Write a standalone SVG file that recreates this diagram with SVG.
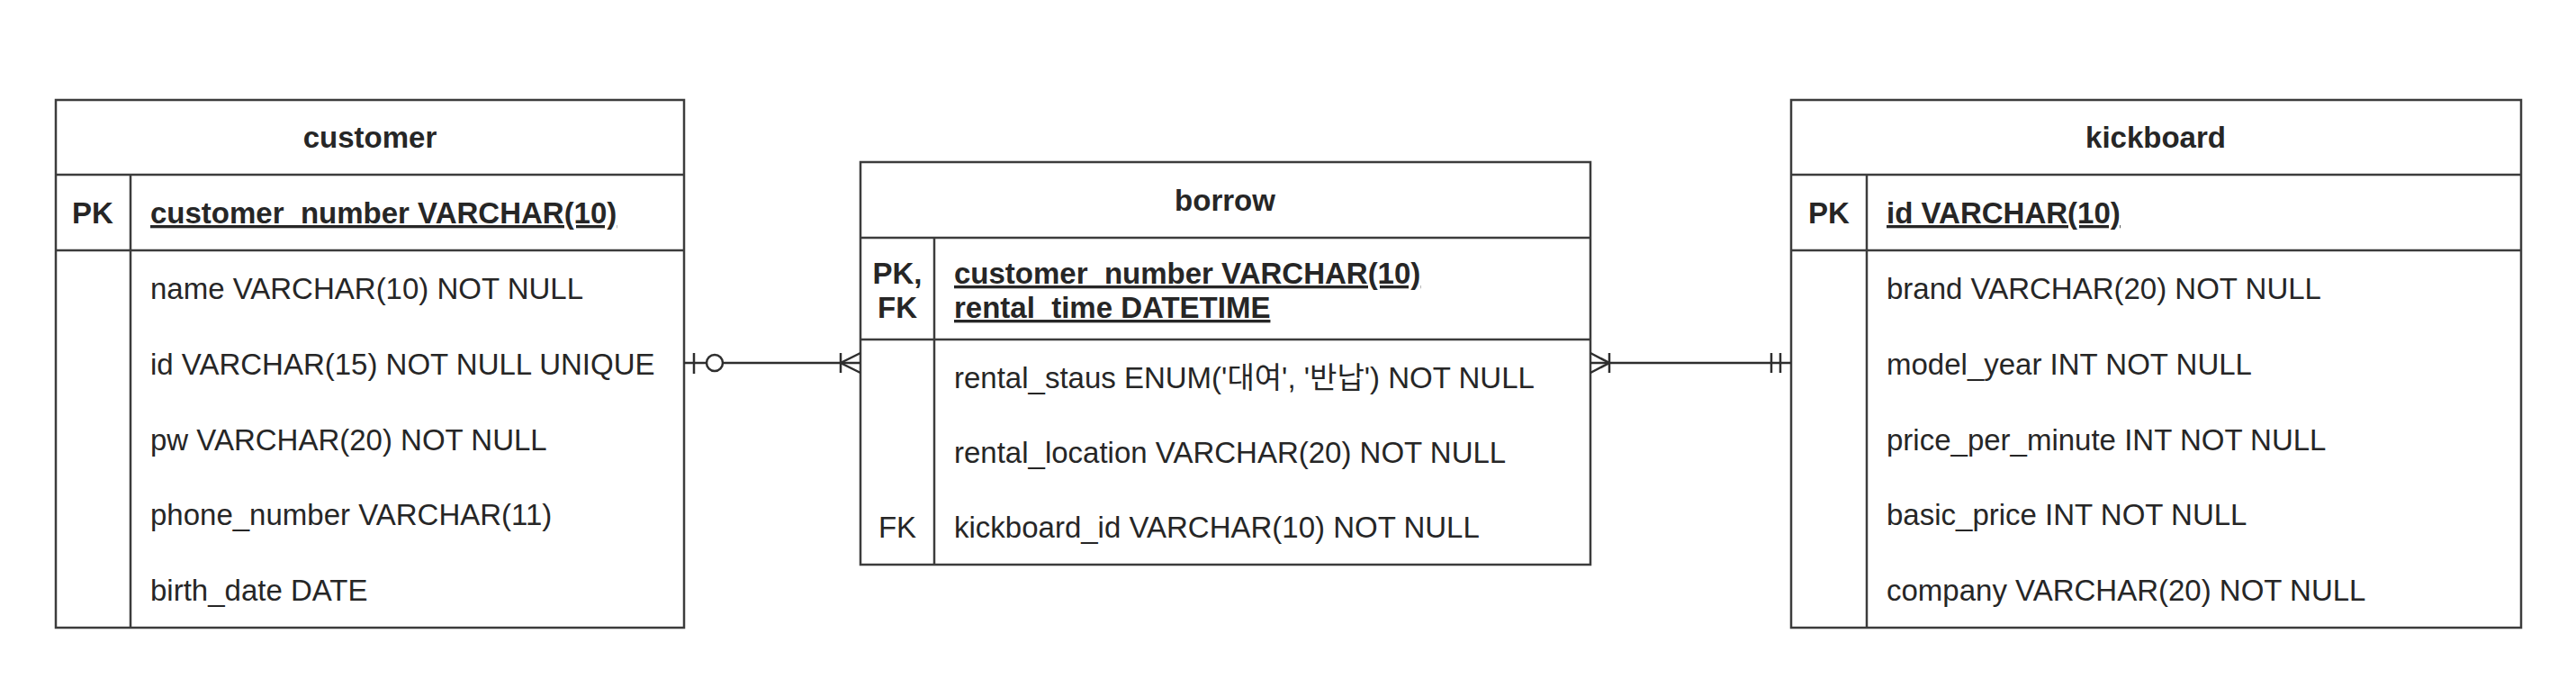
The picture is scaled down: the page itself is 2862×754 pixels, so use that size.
<svg xmlns="http://www.w3.org/2000/svg" width="2862" height="754" viewBox="0 0 2862 754">
<style>
.box{fill:#fff;stroke:#3c3c3c;stroke-width:2.5}
.ln{stroke:#3c3c3c;stroke-width:2.5;fill:none}
.cn{stroke:#2e2e2e;stroke-width:2.5;fill:none}
.t{font-family:"Liberation Sans","Noto Sans CJK KR",sans-serif;font-size:33px;fill:#262626}
.b{font-weight:bold}
.u{text-decoration:underline}
.c{text-anchor:middle}
</style>
<rect width="2862" height="754" fill="#fff"/>
<g id="customer">
<rect class="box" x="62" y="111" width="698" height="586"/>
<line class="ln" x1="62" y1="194" x2="760" y2="194"/>
<line class="ln" x1="62" y1="278" x2="760" y2="278"/>
<line class="ln" x1="145" y1="194" x2="145" y2="697"/>
<text class="t b c" x="411" y="164">customer</text>
<text class="t b c" x="103" y="248">PK</text>
<text class="t b u" x="167" y="248">customer_number VARCHAR(10)</text>
<text class="t" x="167" y="332">name VARCHAR(10) NOT NULL</text>
<text class="t" x="167" y="416">id VARCHAR(15) NOT NULL UNIQUE</text>
<text class="t" x="167" y="500">pw VARCHAR(20) NOT NULL</text>
<text class="t" x="167" y="583">phone_number VARCHAR(11)</text>
<text class="t" x="167" y="667">birth_date DATE</text>
</g>
<g id="borrow">
<rect class="box" x="956" y="180" width="811" height="447"/>
<line class="ln" x1="956" y1="264" x2="1767" y2="264"/>
<line class="ln" x1="956" y1="377" x2="1767" y2="377"/>
<line class="ln" x1="1038" y1="264" x2="1038" y2="627"/>
<text class="t b c" x="1361" y="234">borrow</text>
<text class="t b c" x="997" y="315">PK,</text>
<text class="t b c" x="997" y="353">FK</text>
<text class="t b u" x="1060" y="315">customer_number VARCHAR(10)</text>
<text class="t b u" x="1060" y="353">rental_time DATETIME</text>
<text class="t" x="1060" y="431">rental_staus ENUM('대여', '반납') NOT NULL</text>
<text class="t" x="1060" y="514">rental_location VARCHAR(20) NOT NULL</text>
<text class="t c" x="997" y="597">FK</text>
<text class="t" x="1060" y="597">kickboard_id VARCHAR(10) NOT NULL</text>
</g>
<g id="kickboard">
<rect class="box" x="1990" y="111" width="811" height="586"/>
<line class="ln" x1="1990" y1="194" x2="2801" y2="194"/>
<line class="ln" x1="1990" y1="278" x2="2801" y2="278"/>
<line class="ln" x1="2074" y1="194" x2="2074" y2="697"/>
<text class="t b c" x="2395" y="164">kickboard</text>
<text class="t b c" x="2032" y="248">PK</text>
<text class="t b u" x="2096" y="248">id VARCHAR(10)</text>
<text class="t" x="2096" y="332">brand VARCHAR(20) NOT NULL</text>
<text class="t" x="2096" y="416">model_year INT NOT NULL</text>
<text class="t" x="2096" y="500">price_per_minute INT NOT NULL</text>
<text class="t" x="2096" y="583">basic_price INT NOT NULL</text>
<text class="t" x="2096" y="667">company VARCHAR(20) NOT NULL</text>
</g>
<g id="connectors">
<path class="cn" d="M760 403 H785 M803 403 H956"/>
<line class="cn" x1="771" y1="392" x2="771" y2="415"/>
<circle class="cn" cx="794" cy="403" r="9"/>
<line class="cn" x1="934" y1="392" x2="934" y2="414"/>
<path class="cn" d="M956 392 L934 403 L956 414"/>
<path class="cn" d="M1767 403 H1990"/>
<line class="cn" x1="1788" y1="392" x2="1788" y2="414"/>
<path class="cn" d="M1767 392 L1788 403 L1767 414"/>
<line class="cn" x1="1968" y1="392" x2="1968" y2="414"/>
<line class="cn" x1="1978" y1="392" x2="1978" y2="414"/>
</g>
</svg>
